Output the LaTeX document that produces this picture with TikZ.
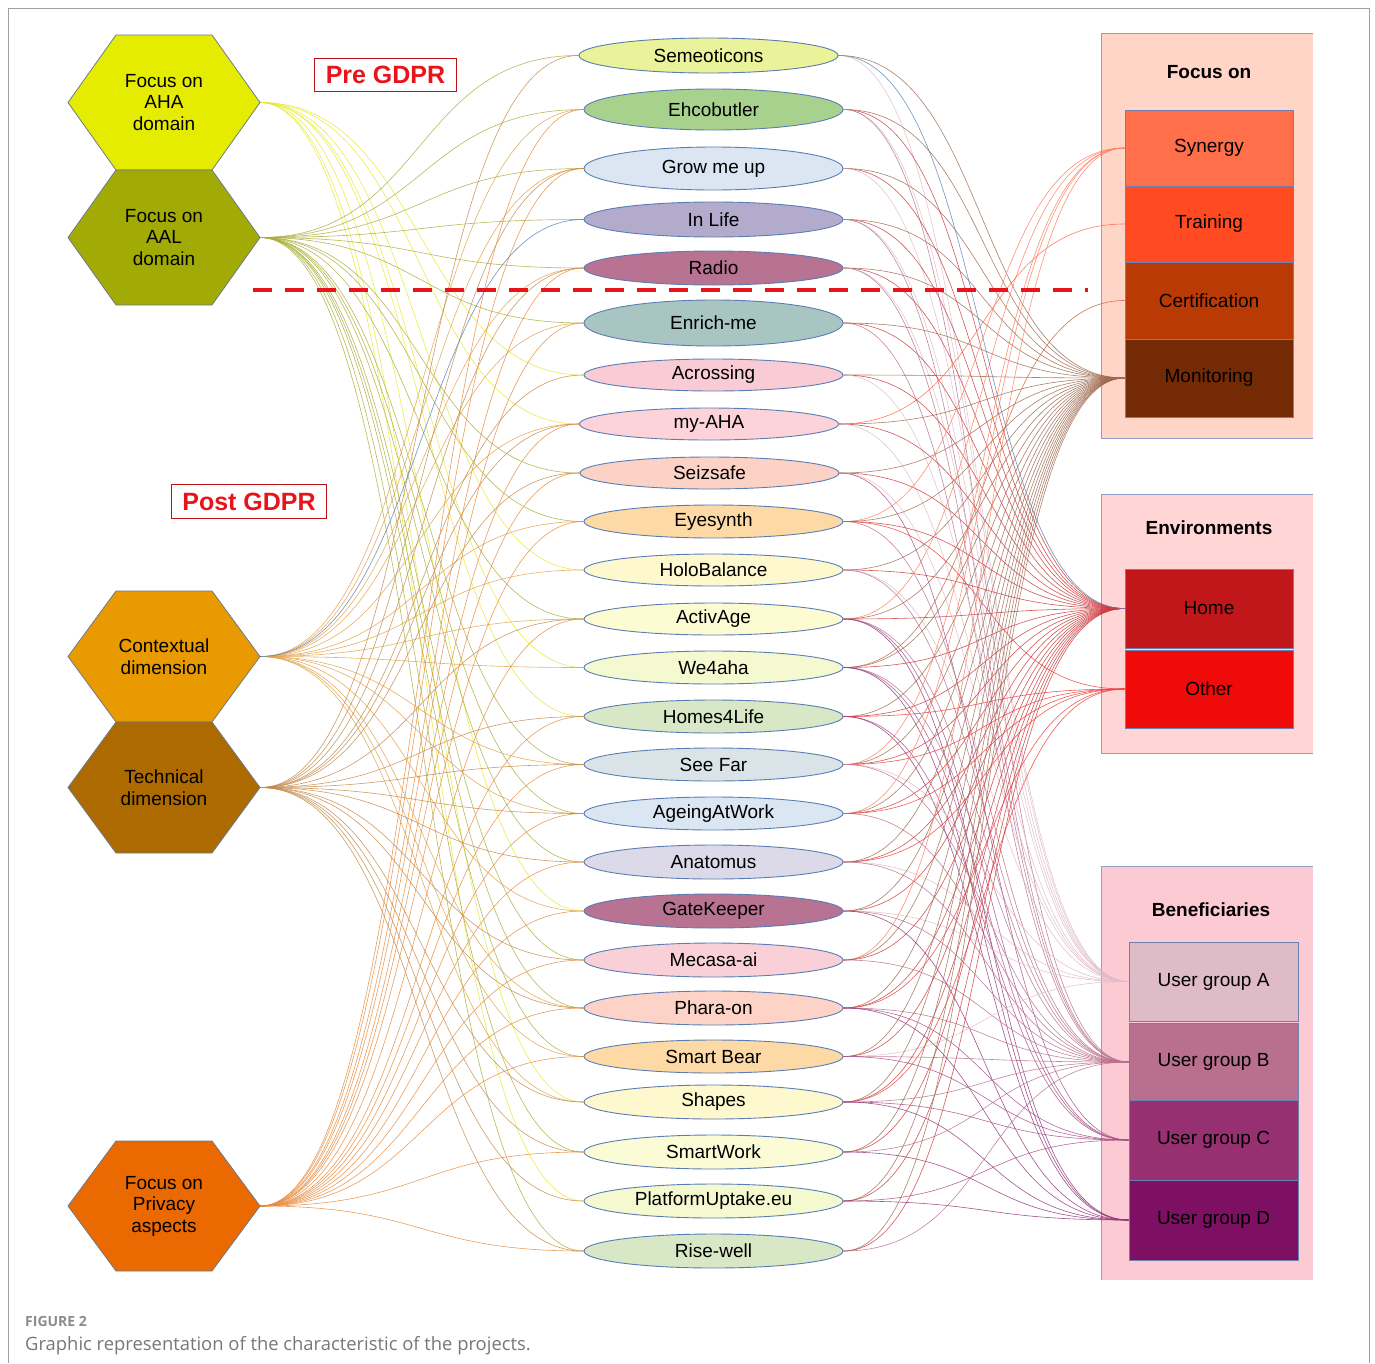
\documentclass[tikz,border=0pt]{standalone}
\usepackage{fontspec}
\setmainfont{Liberation Sans}
\newfontfamily\capfont{Open Sans}
\usetikzlibrary{shapes.geometric}
\pgfdeclarelayer{panel}
\pgfdeclarelayer{links}
\pgfsetlayers{panel,links,main}
% hexagons
\definecolor{hAHA}{HTML}{E6EC00}
\definecolor{hAAL}{HTML}{A2AB05}
\definecolor{hCTX}{HTML}{E89A00}
\definecolor{hTEC}{HTML}{AD6A00}
\definecolor{hPRI}{HTML}{EA6900}
\definecolor{hexborder}{HTML}{6B7A8F}
\definecolor{ellborder}{HTML}{5A7DB5}
\definecolor{cellborder}{HTML}{6F7FB0}
\definecolor{panelborder}{HTML}{8EA0C8}
\definecolor{frame}{HTML}{A0A0A0}
\definecolor{gdpr}{HTML}{E8141C}
\definecolor{capgray}{HTML}{777777}
% project fills
\definecolor{e1}{HTML}{EAF29A}
\definecolor{e2}{HTML}{A9D18E}
\definecolor{e3}{HTML}{DCE6F2}
\definecolor{e4}{HTML}{B3ABCB}
\definecolor{e5}{HTML}{B87292}
\definecolor{e6}{HTML}{A8C5C1}
\definecolor{e7}{HTML}{F9CBD5}
\definecolor{e8}{HTML}{FCD3D8}
\definecolor{e9}{HTML}{FDD2C6}
\definecolor{e10}{HTML}{FDD9A6}
\definecolor{e11}{HTML}{FEF8CE}
\definecolor{e12}{HTML}{FCFBD2}
\definecolor{e13}{HTML}{F5F9D0}
\definecolor{e14}{HTML}{D8E7C6}
\definecolor{e15}{HTML}{DAE4E8}
\definecolor{e16}{HTML}{DBE6F3}
\definecolor{e17}{HTML}{DCDAE9}
\definecolor{e18}{HTML}{B87292}
\definecolor{e19}{HTML}{F9CFD8}
\definecolor{e20}{HTML}{FCD3C6}
\definecolor{e21}{HTML}{FDD9A6}
\definecolor{e22}{HTML}{FEF8CE}
\definecolor{e23}{HTML}{FBFCD6}
\definecolor{e24}{HTML}{F5F9D0}
\definecolor{e25}{HTML}{D8E7C6}
% panels and cells
\definecolor{pFocus}{HTML}{FFD5C8}
\definecolor{pEnv}{HTML}{FFD5D5}
\definecolor{pBen}{HTML}{FCCAD3}
\definecolor{cSyn}{HTML}{FF6F4A}
\definecolor{cTra}{HTML}{FF4A22}
\definecolor{cCer}{HTML}{BA3A05}
\definecolor{cMon}{HTML}{732A05}
\definecolor{cHome}{HTML}{C2171A}
\definecolor{cOther}{HTML}{F00A0A}
\definecolor{cUA}{HTML}{DFBBC8}
\definecolor{cUB}{HTML}{B8708E}
\definecolor{cUC}{HTML}{963070}
\definecolor{cUD}{HTML}{7E1063}
% link colours
\definecolor{lAHA}{HTML}{E4E830}
\definecolor{lAAL}{HTML}{A9AE3A}
\definecolor{lCTX}{HTML}{E0A24A}
\definecolor{lTEC}{HTML}{C48A4A}
\definecolor{lPRI}{HTML}{E88A3C}
\definecolor{lBlue}{HTML}{5B7FB5}
\tikzset{
  proj/.style={ellipse, draw=ellborder, line width=0.9pt, inner sep=0pt, minimum width=259pt},
  hextext/.style={align=center, inner sep=0pt},
  cell/.style={rectangle, draw=cellborder, line width=0.8pt, minimum width=168pt, inner sep=0pt},
  paneltitle/.style={font=\fontsize{19}{21.5}\selectfont\bfseries},
  gdprbox/.style={draw=gdpr!80!black, line width=0.8pt, fill=white, text=gdpr, font=\fontsize{25}{28}\selectfont\bfseries, inner xsep=11pt, inner ysep=8pt},
  link/.style={line width=0.6pt, opacity=0.85},
  l-synergy/.style={link, draw=cSyn!90},
  l-training/.style={link, draw=cTra!85},
  l-cert/.style={link, draw=cCer!80},
  l-mon/.style={link, draw=cMon!70},
  l-home/.style={link, draw=cHome!85},
  l-other/.style={link, draw=cOther!80},
  l-ua/.style={link, draw=cUA},
  l-ub/.style={link, draw=cUB},
  l-uc/.style={link, draw=cUC!85},
  l-ud/.style={link, draw=cUD!85},
}
\newcommand{\drawhex}[5]{%
  \fill[#3, draw=hexborder, line width=0.8pt] (68,#2) -- (116,#2-#4) -- (212,#2-#4) -- (260,#2) -- (212,#2+#4) -- (116,#2+#4) -- cycle;
  \node[hextext] (#1) at (164,#2) {#5};
  \coordinate (#1-e) at (260,#2);
}
\begin{document}
\begin{tikzpicture}[x=1pt,y=-1pt,font=\fontsize{19}{21.5}\selectfont]
\useasboundingbox (0,0) rectangle (1375,1363);
% outer frame
\draw[frame, line width=1pt] (8,1363) -- (8,8) -- (1369,8) -- (1369,1363);

% panels
\begin{pgfonlayer}{panel}
\fill[pFocus] (1101,33) rectangle (1313,438);
\draw[panelborder, line width=0.8pt] (1313,33) -- (1101,33) -- (1101,438) -- (1313,438);
\fill[pEnv] (1101,494) rectangle (1313,753);
\draw[panelborder, line width=0.8pt] (1313,494) -- (1101,494) -- (1101,753) -- (1313,753);
\fill[pBen] (1101,866) rectangle (1313,1280);
\draw[panelborder, line width=0.8pt] (1313,866) -- (1101,866) -- (1101,1280);
\end{pgfonlayer}

% hexagons
\drawhex{h1}{102.5}{hAHA}{67.5}{Focus on\\AHA\\domain}
\drawhex{h2}{237.5}{hAAL}{67.5}{Focus on\\AAL\\domain}
\drawhex{h3}{656.5}{hCTX}{65.5}{Contextual\\dimension}
\drawhex{h4}{787.5}{hTEC}{65.5}{Technical\\dimension}
\drawhex{h5}{1206}{hPRI}{65}{Focus on\\Privacy\\aspects}

% projects
\foreach \n/\x/\y/\h/\t in {
  1/708.5/55.5/35/Semeoticons,
  2/713.5/109.5/41/Ehcobutler,
  3/713.5/168.5/43/Grow me up,
  4/713.5/219.5/35/In Life,
  5/713.5/268/34/Radio,
  6/713.5/323/46/Enrich-me,
  7/713.5/375/32/Acrossing,
  8/709/424/32/my-AHA,
  9/709.5/473/32/Seizsafe,
  10/713.5/521.5/33/Eyesynth,
  11/713.5/570/32/HoloBalance,
  12/713.5/619/32/ActivAge,
  13/713.5/667.5/33/We4aha,
  14/713.5/716.5/33/Homes4Life,
  15/713.5/764.5/33/See Far,
  16/713.5/813.5/33/AgeingAtWork,
  17/713.5/862/34/Anatomus,
  18/713.5/911/34/GateKeeper,
  19/713.5/960/34/Mecasa-ai,
  20/713.5/1008/34/Phara-on,
  21/713.5/1056.5/33/Smart Bear,
  22/713.5/1102/34/Shapes,
  23/713.5/1152/34/SmartWork,
  24/713.5/1201/34/PlatformUptake.eu,
  25/713.5/1251/34/Rise-well}
  {\node[proj, fill=e\n, minimum height=\h pt] (p\n) at (\x,\y) {\t};}

% right cells
\node[paneltitle] (tFocus) at (1209,72) {Focus on};
\node[cell, fill=cSyn, minimum height=76pt] (synergy) at (1209,148) {Synergy};
\node[cell, fill=cTra, minimum height=76pt] (training) at (1209,224) {Training};
\node[cell, fill=cCer, minimum height=77pt] (cert) at (1209,300.5) {Certification};
\node[cell, fill=cMon, minimum height=78pt] (mon) at (1209,378) {Monitoring};
\node[paneltitle] (tEnv) at (1209,528) {Environments};
\node[cell, fill=cHome, minimum height=79pt] (home) at (1209,608.5) {Home};
\node[cell, fill=cOther, minimum height=78pt] (other) at (1209,689) {Other};
\node[paneltitle] (tBen) at (1211,910) {Beneficiaries};
\node[cell, fill=cUA, minimum width=169pt, minimum height=79pt] (ua) at (1213.5,981.5) {User group A};
\node[cell, fill=cUB, minimum width=169pt, minimum height=77pt] (ub) at (1213.5,1062) {User group B};
\node[cell, fill=cUC, minimum width=169pt, minimum height=80pt] (uc) at (1213.5,1140) {User group C};
\node[cell, fill=cUD, minimum width=169pt, minimum height=80pt] (ud) at (1213.5,1220) {User group D};

% GDPR labels
\node[gdprbox] (pre) at (385.5,75) {Pre GDPR};
\node[gdprbox] (post) at (249,501.5) {Post GDPR};

% links
\begin{pgfonlayer}{links}
\foreach \s/\c/\lst in {
  h1/lAHA/{7,8,11,13,14,18,22,24},
  h2/lAAL/{1,2,3,4,5,6,9,10,12,15,16,17,19,20,21,23,25},
  h3/lCTX/{2,3,5,6,8,10,11,12,13,15,16,18,20,21,22},
  h4/lTEC/{1,3,5,7,8,9,12,14,15,16,17,19,20,22,23,24,25},
  h5/lPRI/{2,3,5,6,8,9,10,12,14,15,16,17,18,19,20,21,23,25}}
  {\foreach \t in \lst
    {\draw[link, draw=\c] (\s-e) .. controls +(165,0) and +(-165,0) .. (p\t.west);}}
\draw[link, draw=lBlue] (h3-e) .. controls +(165,0) and +(-165,0) .. (p4.west);
\foreach \p/\lst in {
  1/{mon,ua},
  2/{mon,home,ua,ub},
  3/{mon,home,ua},
  4/{mon,home,ua,ub},
  5/{mon,home,ua,ub},
  6/{mon,home,ub},
  7/{mon,home,ua},
  8/{training,mon,home,ua},
  9/{mon,home,ua,uc},
  10/{synergy,mon,home,other,ub},
  11/{mon,home,ua,ub},
  12/{synergy,mon,home,ub,uc,ud},
  13/{cert,mon,home,ub,uc,ud},
  14/{mon,home,other,uc,ud},
  15/{synergy,mon,home,other,ua,ub},
  16/{synergy,mon,home,other,ub},
  17/{mon,home,other,ua,ub},
  18/{mon,home,ua,ub,ud},
  19/{synergy,mon,home,ub},
  20/{mon,home,other,ub,uc,ud},
  21/{mon,home,ua,ub,uc},
  22/{mon,home,other,ub,uc,ud},
  23/{mon,home,ub,ud},
  24/{mon,home,uc,ud},
  25/{mon,home,ub}}
  {\foreach \t in \lst
    {\draw[l-\t] (p\p.east) .. controls +(150,0) and +(-150,0) .. (\t.west);}}
\draw[link, draw=lBlue] (p1.east) .. controls +(150,0) and +(-150,0) .. (home.west);
\end{pgfonlayer}

% dashed separator
\coordinate (dashA) at (253,290);
\coordinate (dashB) at (1088,290);
\draw[gdpr, line width=4pt, dash pattern=on 19pt off 13pt] (dashA) -- (dashB);

% caption
\node[anchor=base west, inner sep=0pt, text=capgray!85, font=\capfont\bfseries\fontsize{14}{16}\selectfont] (figlabel) at (25,1326) {FIGURE 2};
\node[anchor=base west, inner sep=0pt, text=capgray, font=\capfont\fontsize{18.4}{21}\selectfont] (figcap) at (25,1350) {Graphic representation of the characteristic of the projects.};
\end{tikzpicture}
\end{document}
